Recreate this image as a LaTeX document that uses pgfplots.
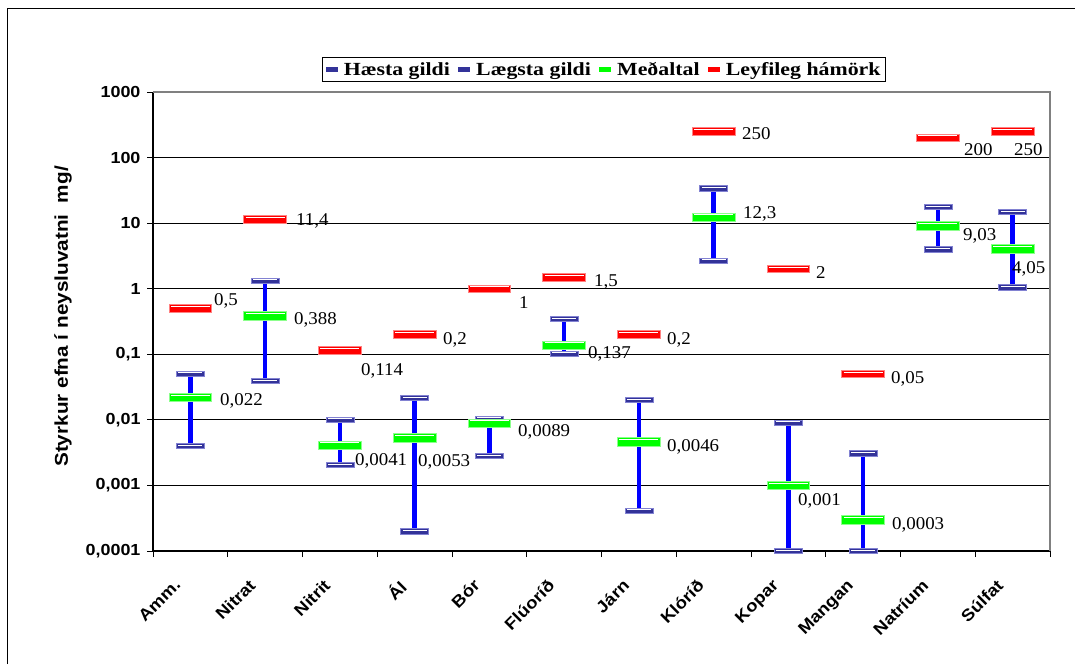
\documentclass[border=0pt]{standalone}
\usepackage{fontspec}
\usepackage{pgfplots}
\pgfplotsset{compat=1.18}
\usepackage{pgfplotstable}
\setmainfont{Liberation Serif}
\newfontfamily\sansb[FakeStretch=1.12]{Liberation Sans}
\newfontfamily\legf[FakeStretch=1.18]{Liberation Serif}
\newfontfamily\labf[FakeStretch=1.05]{Liberation Serif}
\definecolor{capblue}{RGB}{51,51,153}
\definecolor{capedge}{RGB}{130,130,210}
\definecolor{lineblue}{RGB}{0,0,255}
\definecolor{mgreen}{RGB}{0,255,0}
\definecolor{gedge}{RGB}{140,255,140}
\definecolor{mred}{RGB}{255,0,0}
\definecolor{redge}{RGB}{255,130,130}
\definecolor{bordergray}{RGB}{128,128,128}

\pgfdeclareplotmark{capm}{%
  \pgfpathrectangle{\pgfpoint{-14pt}{-2.6pt}}{\pgfpoint{28pt}{5.2pt}}%
  \pgfsetfillcolor{capblue}\pgfsetstrokecolor{capedge}\pgfsetlinewidth{0.6pt}%
  \pgfusepath{fill,stroke}%
  \pgfpathmoveto{\pgfpoint{-12pt}{1.1pt}}\pgfpathlineto{\pgfpoint{12pt}{1.1pt}}%
  \pgfsetstrokecolor{white}\pgfsetlinewidth{0.5pt}\pgfusepath{stroke}}
\pgfdeclareplotmark{meanm}{%
  \pgfpathrectangle{\pgfpoint{-21.4pt}{-4.3pt}}{\pgfpoint{42.8pt}{8.6pt}}%
  \pgfsetfillcolor{mgreen}\pgfsetstrokecolor{gedge}\pgfsetlinewidth{0.7pt}%
  \pgfusepath{fill,stroke}%
  \pgfpathmoveto{\pgfpoint{-19.5pt}{2.6pt}}\pgfpathlineto{\pgfpoint{19.5pt}{2.6pt}}%
  \pgfsetstrokecolor{white}\pgfsetlinewidth{0.5pt}\pgfusepath{stroke}}
\pgfdeclareplotmark{limm}{%
  \pgfpathrectangle{\pgfpoint{-21.4pt}{-3.8pt}}{\pgfpoint{42.8pt}{7.6pt}}%
  \pgfsetfillcolor{mred}\pgfsetstrokecolor{redge}\pgfsetlinewidth{0.7pt}%
  \pgfusepath{fill,stroke}%
  \pgfpathmoveto{\pgfpoint{-19.5pt}{2.1pt}}\pgfpathlineto{\pgfpoint{19.5pt}{2.1pt}}%
  \pgfsetstrokecolor{white}\pgfsetlinewidth{0.6pt}\pgfusepath{stroke}}

\pgfplotstableread{
x low high mean lim
0 0.004 0.051 0.022 0.5
1 0.039 1.33 0.388 11.4
2 0.00205 0.0101 0.0041 0.114
3 0.0002 0.0215 0.0053 0.2
4 0.0028 0.0105 0.0089 1
5 0.103 0.347 0.137 1.5
6 0.00041 0.02 0.0046 0.2
7 2.7 34 12.3 250
8 0.0001 0.0091 0.001 2
9 0.0001 0.0031 0.0003 0.05
10 4.0 17.7 9.03 200
11 1.05 14.7 4.05 250
}\datatable

\pgfplotstableread{
x y
0 0.004
0 0.051
0 nan
1 0.039
1 1.33
1 nan
2 0.00205
2 0.0101
2 nan
3 0.0002
3 0.0215
3 nan
4 0.0028
4 0.0105
4 nan
5 0.103
5 0.347
5 nan
6 0.00041
6 0.02
6 nan
7 2.7
7 34
7 nan
8 0.0001
8 0.0091
8 nan
9 0.0001
9 0.0031
9 nan
10 4.0
10 17.7
10 nan
11 1.05
11 14.7
}\segtable

\begin{document}
\begin{tikzpicture}
\path[use as bounding box] (0pt,0pt) rectangle (1075pt,-664pt);
\draw[line width=1.6pt] (7.5pt,-664pt) -- (7.5pt,-8.5pt) -- (1075pt,-8.5pt);
\begin{axis}[
  at={(153pt,-551pt)}, anchor=south west,
  width=897pt, height=459pt, scale only axis,
  ymode=log, ymin=1e-4, ymax=1e3,
  xmin=-0.5, xmax=11.5,
  clip=false,
  axis line style={draw=none},
  xtick={0,...,11},
  xticklabels={Amm.,Nitrat,Nitrit,Ál,Bór,Flúoríð,Járn,Klóríð,Kopar,Mangan,Natríum,Súlfat},
  major x tick style={draw=none},
  minor xtick={-0.5,0.5,...,11.5},
  minor x tick style={black, line width=1pt},
  xtick pos=bottom, ytick pos=left,
  tick align=outside, major tick length=6pt, minor tick length=6pt,
  ytick={0.0001,0.001,0.01,0.1,1,10,100,1000},
  yticklabels={{0,0001},{0,001},{0,01},{0,1},1,10,100,1000},
  yminorticks=false,
  major y tick style={black, line width=1pt},
  ymajorgrids, major grid style={black, line width=0.8pt},
  yticklabel style={font=\sansb\bfseries\fontsize{16}{16}\selectfont, xshift=-3pt},
  xticklabel style={font=\sansb\bfseries\fontsize{16.5}{16.5}\selectfont, inner sep=0pt, xshift=-17pt, yshift=-21pt, rotate=45, anchor=north east},
  ylabel={Styrkur efna í neysluvatni\ \ mg/},
  ylabel style={font=\sansb\bfseries\fontsize{18.5}{18.5}\selectfont, at={(axis description cs:-0.1003,0.511)}, anchor=center},
  legend columns=4,
  legend style={at={(0.5028,1.049)}, anchor=center, draw=black, line width=1.3pt,
    font=\legf\bfseries\fontsize{18.5}{18.5}\selectfont, inner xsep=3pt, inner ysep=2.5pt,
    /tikz/every odd column/.append style={column sep=4pt},
    /tikz/every even column/.append style={column sep=6pt}},
]
\draw[black, line width=1.5pt] (rel axis cs:0,1) -- (rel axis cs:0,0) -- (rel axis cs:1,0);
\draw[bordergray, line width=2.6pt] (rel axis cs:0,1) -- (rel axis cs:1,1) -- (rel axis cs:1,0);

\addplot[lineblue, line width=4.3pt, forget plot, unbounded coords=jump] table[x=x, y=y] {\segtable};

\addplot[only marks, mark=capm,
  legend image code/.code={\fill[capblue] (0pt,-1.5pt) rectangle (11pt,1.5pt);}]
  table[x=x, y=high] {\datatable};
\addlegendentry{Hæsta gildi}
\addplot[only marks, mark=capm,
  legend image code/.code={\fill[capblue] (0pt,-1.5pt) rectangle (11pt,1.5pt);}]
  table[x=x, y=low] {\datatable};
\addlegendentry{Lægsta gildi}
\addplot[only marks, mark=meanm,
  legend image code/.code={\fill[mgreen] (0pt,-1.5pt) rectangle (11pt,1.5pt);}]
  table[x=x, y=mean] {\datatable};
\addlegendentry{Meðaltal}
\addplot[only marks, mark=limm,
  legend image code/.code={\fill[mred] (0pt,-1.5pt) rectangle (11pt,1.5pt);}]
  table[x=x, y=lim] {\datatable};
\addlegendentry{Leyfileg hámörk}

\begin{scope}[every node/.style={anchor=base west, inner sep=0pt, font=\labf\fontsize{18}{18}\selectfont}]
\node[yshift=2.9pt]  at (axis cs:0.316,0.5) {0,5};
\node[yshift=-8.1pt] at (axis cs:0.396,0.022) {0,022};
\node[yshift=-6.1pt] at (axis cs:1.413,11.4) {11,4};
\node[yshift=-9.1pt] at (axis cs:1.386,0.388) {0,388};
\node[yshift=-25.1pt] at (axis cs:2.283,0.114) {0,114};
\node[yshift=-20.6pt] at (axis cs:2.202,0.0041) {0,0041};
\node[yshift=-10.1pt] at (axis cs:3.380,0.2) {0,2};
\node[yshift=-28.1pt] at (axis cs:3.045,0.0053) {0,0053};
\node[yshift=-20.1pt] at (axis cs:4.396,1) {1};
\node[yshift=-13.1pt] at (axis cs:4.383,0.0089) {0,0089};
\node[yshift=-9.6pt] at (axis cs:5.400,1.5) {1,5};
\node[yshift=-13.1pt] at (axis cs:5.319,0.137) {0,137};
\node[yshift=-10.1pt] at (axis cs:6.376,0.2) {0,2};
\node[yshift=-9.1pt] at (axis cs:6.376,0.0046) {0,0046};
\node[yshift=-7.6pt] at (axis cs:7.380,250) {250};
\node[yshift=-1.6pt] at (axis cs:7.393,12.3) {12,3};
\node[yshift=-9.6pt] at (axis cs:8.370,2) {2};
\node[yshift=-19.6pt] at (axis cs:8.129,0.001) {0,001};
\node[yshift=-9.5pt] at (axis cs:9.373,0.05) {0,05};
\node[yshift=-10.1pt] at (axis cs:9.386,0.0003) {0,0003};
\node[yshift=-18.1pt] at (axis cs:10.349,200) {200};
\node[yshift=-14.6pt] at (axis cs:10.336,9.03) {9,03};
\node[yshift=-23.6pt] at (axis cs:11.018,250) {250};
\node[yshift=-25.1pt] at (axis cs:10.992,4.05) {4,05};
\end{scope}
\end{axis}
\end{tikzpicture}
\end{document}
